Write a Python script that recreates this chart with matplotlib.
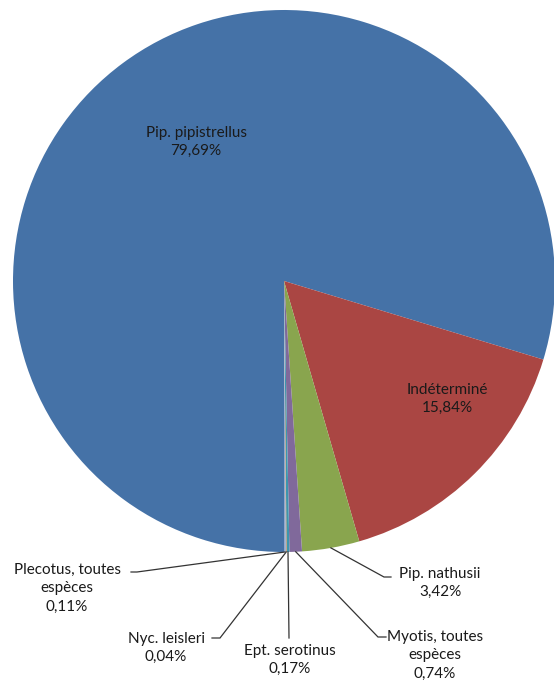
import numpy as np
import matplotlib.pyplot as plt

plt.rcParams['font.family'] = ['Lato', 'DejaVu Sans']

species = ["Pip. pipistrellus", "Indéterminé", "Pip. nathusii",
           "Myotis, toutes\nespèces", "Ept. serotinus", "Nyc. leisleri",
           "Plecotus, toutes\nespèces"]
shares = [79.69, 15.84, 3.42, 0.74, 0.17, 0.04, 0.11]
colors = ['#4572A7', '#AA4643', '#89A54E', '#80699B', '#3D96AE', '#DB843D', '#92A8CD']

W, H = 554, 686
fig = plt.figure(figsize=(W / 100, H / 100), dpi=100)
ax = fig.add_axes([0, 0, 1, 1])

cx, cy, r = 284, 405, 271
wedges, _ = ax.pie(shares, colors=colors, startangle=-90, counterclock=False,
                   center=(cx, cy), radius=r, frame=True,
                   wedgeprops=dict(linewidth=0))
ax.set_xlim(0, W)
ax.set_ylim(0, H)
ax.set_aspect('equal')
ax.axis('off')


def lab(i):
    return species[i] + "\n" + f"{shares[i]:.2f}".replace('.', ',') + "%"


tkw = dict(fontsize=11, color='#1a1a1a', ha='center', va='center', linespacing=1.4)

# labels inside the slices
ax.text(196, 544, lab(0), **tkw)
ax.text(447, 287, lab(1), **tkw)

# outside labels: text centre, elbow of the leader, end of the short stub
outside = {
    2: ((440, 103), (384, 109), (391, 109)),
    3: ((435, 31), (378, 49), (386, 49)),
    4: ((290, 26), (289, 48), (289, 48)),
    5: ((166, 38), (220, 48), (212, 48)),
    6: ((67, 98), (137, 114), (131, 114)),
}
for i, (tpos, elbow, stub) in outside.items():
    w = wedges[i]
    mid = np.deg2rad((w.theta1 + w.theta2) / 2)
    px, py = cx + r * np.cos(mid), cy + r * np.sin(mid)
    ax.plot([px, elbow[0], stub[0]], [py, elbow[1], stub[1]],
            color='#333333', lw=0.9, solid_joinstyle='miter')
    ax.text(tpos[0], tpos[1], lab(i), **tkw)

fig.savefig('out.png', dpi=100)
